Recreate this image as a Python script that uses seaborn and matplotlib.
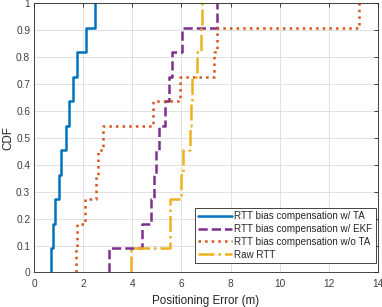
import matplotlib
matplotlib.use("Agg")
import matplotlib.pyplot as plt
import seaborn as sns
import numpy as np

sns.set_style("whitegrid")
plt.rcParams["font.family"] = ["Liberation Sans", "DejaVu Sans"]

# positioning error samples (m), 11 per method
err_ta = [0.68, 0.75, 0.84, 1.01, 1.10, 1.28, 1.41, 1.59, 1.74, 2.09, 2.46]
err_ekf = [3.06, 4.38, 4.75, 4.88, 4.96, 5.10, 5.33, 5.50, 5.63, 6.01, 7.43]
err_wo_ta = [1.69, 1.75, 2.07, 2.52, 2.58, 2.79, 4.83, 5.94, 7.33, 7.44, 13.23]
err_raw = [3.96, 5.53, 5.55, 5.97, 6.05, 6.35, 6.39, 6.43, 6.65, 6.80, 6.84]

labels = ["RTT bias compensation w/ TA", "RTT bias compensation w/ EKF",
          "RTT bias compensation w/o TA", "Raw RTT"]
colors = ["#0072BD", "#7E2F8E", "#D95319", "#EDB120"]
styles = ["-", "--", ":", "-."]

fig = plt.figure(figsize=(3.82, 3.07), dpi=100)
ax = fig.add_axes([0.0898, 0.1124, 0.8989, 0.8762])

for data, lab, col, ls in zip([err_ta, err_ekf, err_wo_ta, err_raw], labels, colors, styles):
    sns.ecdfplot(x=data, ax=ax, color=col, linestyle=ls, linewidth=1.8, label=lab)

# start each staircase at its first sample instead of -inf
for line in ax.get_lines():
    xd = np.asarray(line.get_xdata(), dtype=float)
    if np.isinf(xd[0]):
        xd[0] = xd[1]
        line.set_xdata(xd)

ax.set_xlim(0, 14)
ax.set_ylim(0, 1)
ax.set_xticks(range(0, 15, 2))
ax.set_yticks(np.arange(0, 1.01, 0.1))
ax.set_yticklabels(["0", "0.1", "0.2", "0.3", "0.4", "0.5", "0.6", "0.7", "0.8", "0.9", "1"])
ax.set_xlabel("Positioning Error (m)", fontsize=8.4, color="#262626", labelpad=4)
ax.set_ylabel("CDF", fontsize=8.4, color="#262626", labelpad=1)
ax.tick_params(direction="in", length=3, width=0.6, labelsize=7.3, colors="#262626",
               top=True, right=True)
ax.tick_params(axis="x", pad=5)
ax.tick_params(axis="y", pad=3)
ax.tick_params(labelcolor="#404040")
ax.grid(True, color="#dcdcdc", linewidth=0.6)
for sp in ax.spines.values():
    sp.set_color("#262626")
    sp.set_linewidth(0.6)
    sp.set_zorder(3)

leg = ax.legend(loc="lower right", bbox_to_anchor=(0.994, 0.034), borderaxespad=0,
                fontsize=7.1, frameon=True, fancybox=False, framealpha=1,
                handlelength=3.4, handletextpad=0.25, borderpad=0.35, labelspacing=0.3)
leg.get_frame().set_edgecolor("#262626")
leg.get_frame().set_linewidth(0.6)

fig.savefig("out.png", dpi=100)
